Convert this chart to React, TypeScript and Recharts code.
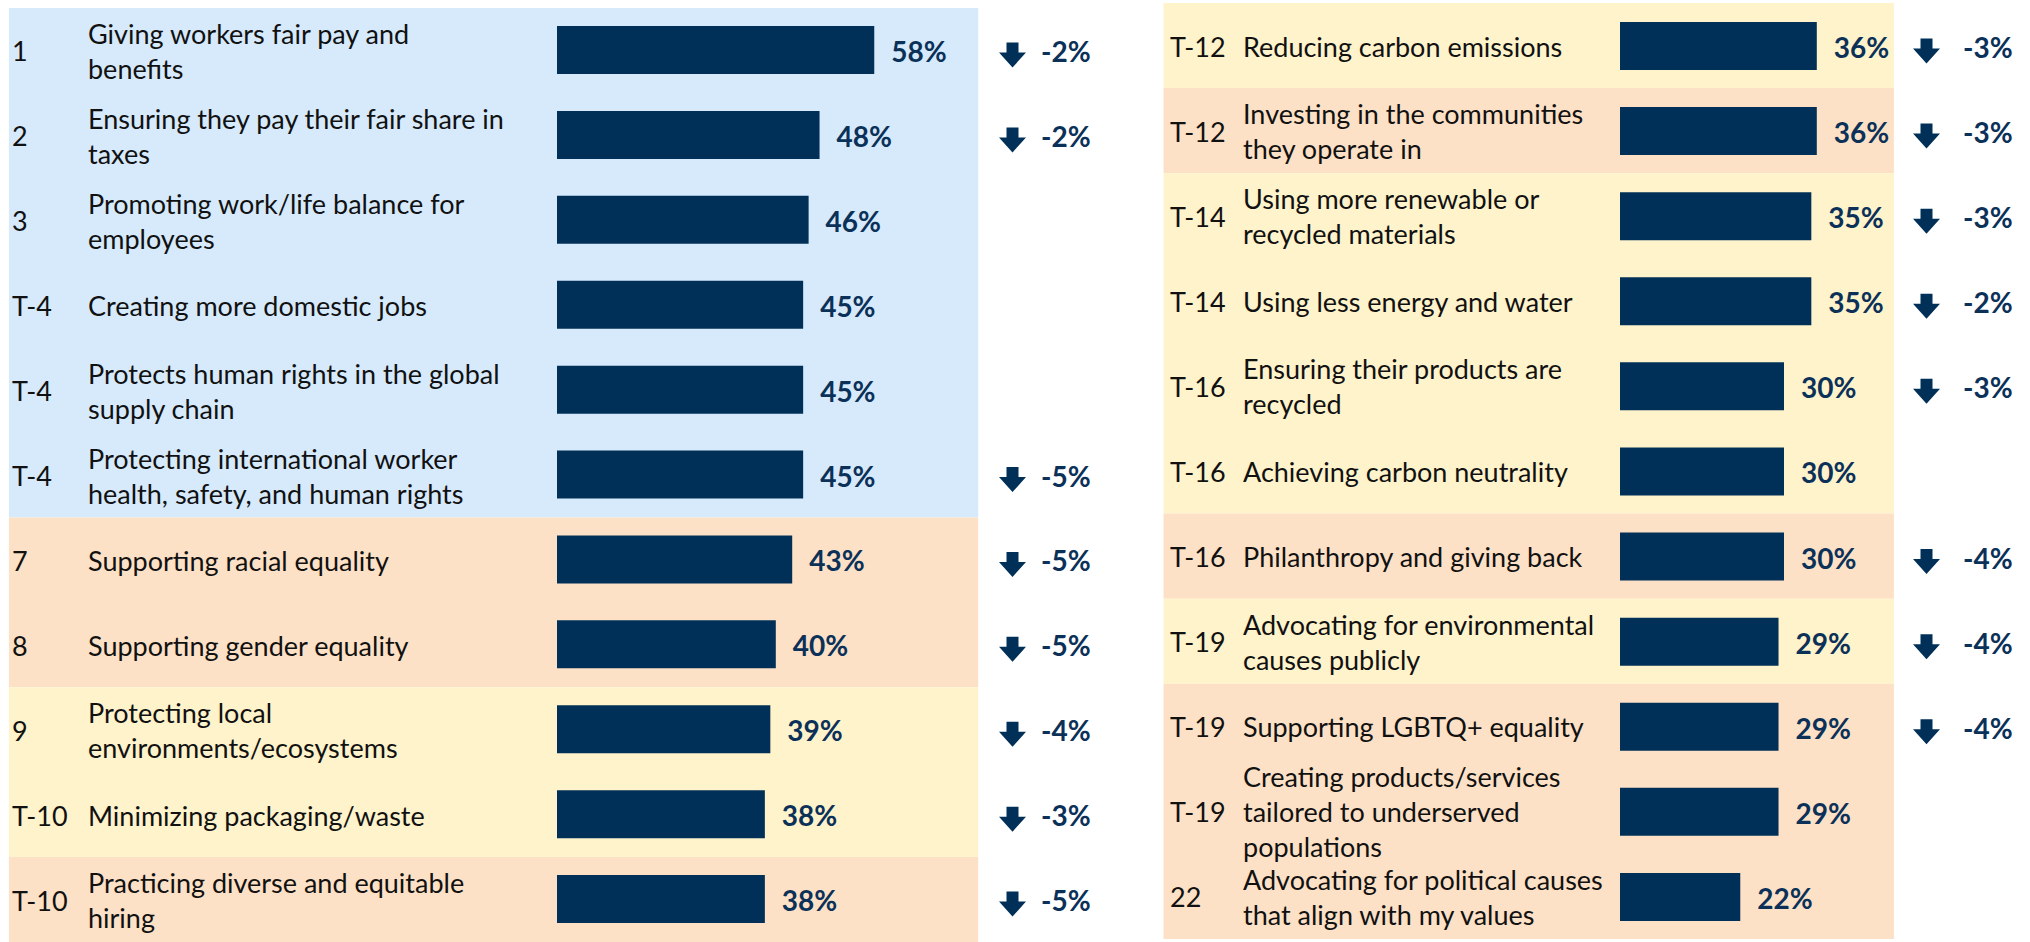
import { BarChart, Bar, XAxis, YAxis, ReferenceArea, LabelList } from "recharts";

const leftRanks = ["1", "2", "3", "T-4", "T-4", "T-4", "7", "8", "9", "T-10", "T-10"];
const leftLabels = [
  "Giving workers fair pay and\nbenefits",
  "Ensuring they pay their fair share in\ntaxes",
  "Promoting work/life balance for\nemployees",
  "Creating more domestic jobs",
  "Protects human rights in the global\nsupply chain",
  "Protecting international worker\nhealth, safety, and human rights",
  "Supporting racial equality",
  "Supporting gender equality",
  "Protecting local\nenvironments/ecosystems",
  "Minimizing packaging/waste",
  "Practicing diverse and equitable\nhiring",
];
const leftValues = [58, 48, 46, 45, 45, 45, 43, 40, 39, 38, 38];
const leftChanges = [-2, -2, null, null, null, -5, -5, -5, -4, -3, -5];

const rightRanks = ["T-12", "T-12", "T-14", "T-14", "T-16", "T-16", "T-16", "T-19", "T-19", "T-19", "22"];
const rightLabels = [
  "Reducing carbon emissions",
  "Investing in the communities\nthey operate in",
  "Using more renewable or\nrecycled materials",
  "Using less energy and water",
  "Ensuring their products are\nrecycled",
  "Achieving carbon neutrality",
  "Philanthropy and giving back",
  "Advocating for environmental\ncauses publicly",
  "Supporting LGBTQ+ equality",
  "Creating products/services\ntailored to underserved\npopulations",
  "Advocating for political causes\nthat align with my values",
];
const rightValues = [36, 36, 35, 35, 30, 30, 30, 29, 29, 29, 22];
const rightChanges = [-3, -3, -3, -2, -3, null, -4, -4, -4, null, null];

// shaded groups: first row, last row, group
const leftGroups: [number, number, string][] = [
  [0, 5, "blue"],
  [6, 7, "peach"],
  [8, 9, "yellow"],
  [10, 10, "peach"],
];
const rightGroups: [number, number, string][] = [
  [0, 0, "yellow"],
  [1, 1, "peach"],
  [2, 5, "yellow"],
  [6, 6, "peach"],
  [7, 7, "yellow"],
  [8, 10, "peach"],
];

const GROUP_COLORS: Record<string, string> = {
  blue: "#D6EAFC",
  peach: "#FDE1C6",
  yellow: "#FFF3CB",
};
const NAVY = "#003057";
const NAVY_TEXT = "#0B3159";
const FONT = "Lato, 'Noto Sans', sans-serif";

function ArrowChange(props: any) {
  const { value, arrowDx, changeDx } = props;
  const vb = props.viewBox ?? props;
  if (value === null || value === undefined) return null;
  const cy = vb.y + vb.height / 2;
  const ax = vb.x + arrowDx;
  const ay = cy + 5 - 12.5;
  return (
    <g>
      <path
        d={`M${ax + 7.5},${ay} H${ax + 19.5} V${ay + 10} H${ax + 27} L${ax + 13.5},${ay + 25} L${ax},${ay + 10} H${ax + 7.5} Z`}
        fill={NAVY}
      />
      <text x={vb.x + changeDx} y={cy + 12} fill={NAVY_TEXT} fontFamily={FONT} fontSize={28} fontWeight={700}>
        {`${value}%`}
      </text>
    </g>
  );
}

function ValueLabel(props: any) {
  const vb = props.viewBox ?? props;
  return (
    <text
      x={vb.x + vb.width + 17}
      y={vb.y + vb.height / 2 + 12}
      fill={NAVY_TEXT}
      fontFamily={FONT}
      fontSize={28}
      fontWeight={700}
    >
      {`${props.value}%`}
    </text>
  );
}

function CategoryTick(props: any) {
  const { y, index, ranks, labels, rankX, labelX } = props;
  const lines: string[] = labels[index].split("\n");
  const first = y + 11 - ((lines.length - 1) * 35) / 2;
  return (
    <g fontFamily={FONT} fontSize={27} fill="#111">
      <text x={rankX} y={y + 11}>
        {ranks[index]}
      </text>
      <text>
        {lines.map((line, i) => (
          <tspan key={i} x={labelX} y={first + i * 35}>
            {line}
          </tspan>
        ))}
      </text>
    </g>
  );
}

interface PanelProps {
  ranks: string[];
  labels: string[];
  values: number[];
  changes: (number | null)[];
  groups: [number, number, string][];
  width: number;
  axisWidth: number;
  margin: { top: number; bottom: number };
  domainMax: number;
  shadeFrom: number;
  shadeTo: number;
  rankX: number;
  labelX: number;
  arrowDx: number;
  changeDx: number;
}

function Panel(p: PanelProps) {
  const rows = p.labels.map((label, i) => ({
    label,
    value: p.values[i],
    change: p.changes[i],
  }));

  return (
    <BarChart
      width={p.width}
      height={942}
      data={rows}
      layout="vertical"
      margin={{ top: p.margin.top, right: 0, bottom: p.margin.bottom, left: 0 }}
    >
      <XAxis type="number" domain={[0, p.domainMax]} hide />
      <YAxis
        type="category"
        dataKey="label"
        width={p.axisWidth}
        axisLine={false}
        tickLine={false}
        tickSize={0}
        interval={0}
        tick={(t: any) => (
          <CategoryTick {...t} ranks={p.ranks} labels={p.labels} rankX={p.rankX} labelX={p.labelX} />
        )}
      />
      {p.groups.map(([from, to, g], i) => (
        <ReferenceArea
          key={i}
          y1={p.labels[from]}
          y2={p.labels[to]}
          x1={p.shadeFrom}
          x2={p.shadeTo}
          fill={GROUP_COLORS[g]}
          fillOpacity={1}
          stroke="none"
          ifOverflow="visible"
        />
      ))}
      <Bar dataKey="value" fill={NAVY} barSize={48} isAnimationActive={false}>
        <LabelList dataKey="value" content={<ValueLabel />} />
        <LabelList
          dataKey="change"
          content={(lp: any) => <ArrowChange {...lp} arrowDx={p.arrowDx} changeDx={p.changeDx} />}
        />
      </Bar>
    </BarChart>
  );
}

export default function App() {
  return (
    <div
      style={{
        position: "absolute",
        left: 0,
        top: 0,
        width: 2030,
        height: 942,
        background: "#fff",
        fontFamily: FONT,
        overflow: "hidden",
      }}
    >
      <div style={{ position: "absolute", left: 0, top: 0 }}>
        <Panel
          ranks={leftRanks}
          labels={leftLabels}
          values={leftValues}
          changes={leftChanges}
          groups={leftGroups}
          width={1104}
          axisWidth={557}
          margin={{ top: 8, bottom: 0 }}
          domainMax={100}
          shadeFrom={-100.2}
          shadeTo={77}
          rankX={12}
          labelX={88}
          arrowDx={442}
          changeDx={484}
        />
      </div>
      <div style={{ position: "absolute", left: 1150, top: 0 }}>
        <Panel
          ranks={rightRanks}
          labels={rightLabels}
          values={rightValues}
          changes={rightChanges}
          groups={rightGroups}
          width={880}
          axisWidth={470}
          margin={{ top: 3, bottom: 3 }}
          domainMax={75}
          shadeFrom={-83.5}
          shadeTo={50.1}
          rankX={20}
          labelX={93}
          arrowDx={293}
          changeDx={343}
        />
      </div>
    </div>
  );
}
